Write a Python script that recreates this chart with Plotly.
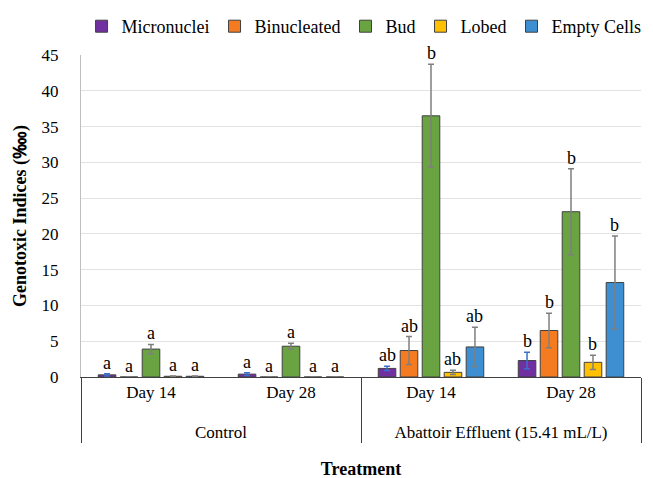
import plotly.graph_objects as go

treatments = ["Control", "Control", "Abattoir Effluent (15.41 mL/L)", "Abattoir Effluent (15.41 mL/L)"]
days = ["Day 14", "Day 28", "Day 14", "Day 28"]

series = ["Micronuclei", "Binucleated", "Bud", "Lobed", "Empty Cells"]
values = {
    "Micronuclei": [0.3, 0.4, 1.2, 2.3],
    "Binucleated": [0.0, 0.0, 3.7, 6.5],
    "Bud":         [3.9, 4.3, 36.5, 23.1],
    "Lobed":       [0.1, 0.0, 0.65, 2.05],
    "Empty Cells": [0.1, 0.0, 4.2, 13.2],
}
errors = {
    "Micronuclei": [0.15, 0.2, 0.3, 1.15],
    "Binucleated": [0.0, 0.0, 1.95, 2.4],
    "Bud":         [0.65, 0.4, 7.2, 6.0],
    "Lobed":       [0.05, 0.0, 0.3, 1.0],
    "Empty Cells": [0.05, 0.0, 2.75, 6.5],
}
letters = {
    "Micronuclei": ["a", "a", "ab", "b"],
    "Binucleated": ["a", "a", "ab", "b"],
    "Bud":         ["a", "a", "b", "b"],
    "Lobed":       ["a", "a", "ab", "b"],
    "Empty Cells": ["a", "a", "ab", "b"],
}
colors = {
    "Micronuclei": "#7030A0",
    "Binucleated": "#F47B20",
    "Bud": "#6AA342",
    "Lobed": "#FFC000",
    "Empty Cells": "#3D8FD1",
}
err_colors = {
    "Micronuclei": "#3A6FD0",
    "Binucleated": "#7F7F7F",
    "Bud": "#7F7F7F",
    "Lobed": "#7F7F7F",
    "Empty Cells": "#7F7F7F",
}

FONT = "Liberation Serif"
bargap = 0.215
bargroupgap = 0.2

# inner tick labels padded with a small spacer line to push the outer labels down
day_labels = [d + "<br><span style='font-size:3px'> </span>" for d in days]

fig = go.Figure()
for s in series:
    fig.add_trace(go.Bar(
        name=s,
        x=[treatments, day_labels],
        y=values[s],
        marker=dict(color=colors[s], line=dict(color="#404040", width=1)),
        error_y=dict(type="data", array=errors[s], visible=True,
                     color=err_colors[s], thickness=1.5, width=3),
    ))

n = len(series)
slot = (1 - bargap) / n
annotations = []
for j, s in enumerate(series):
    off = (j - (n - 1) / 2) * slot
    for i in range(len(days)):
        top = values[s][i] + errors[s][i]
        annotations.append(dict(
            x=i + off, y=top, xref="x", yref="y",
            text=letters[s][i], showarrow=False, yanchor="bottom", yshift=-1,
            font=dict(family=FONT, size=18, color="#000000"),
        ))

fig.update_layout(
    width=645, height=470,
    margin=dict(l=73, r=12, t=47, b=101, autoexpand=False),
    paper_bgcolor="white", plot_bgcolor="white",
    barmode="group", bargap=bargap, bargroupgap=bargroupgap,
    font=dict(family=FONT, size=17, color="#000000"),
    showlegend=True,
    legend=dict(orientation="h", x=0.99, xanchor="right", xref="container",
                y=1.0, yanchor="top", yref="container",
                font=dict(family=FONT, size=18),
                itemwidth=30, traceorder="normal"),
    annotations=annotations,
    xaxis=dict(
        type="multicategory",
        showdividers=True, dividercolor="#404040", dividerwidth=1,
        showline=True, linecolor="#404040", linewidth=1,
        ticks="", tickfont=dict(family=FONT, size=17),
        title=dict(text="<b>Treatment</b>", font=dict(family=FONT, size=18), standoff=20),
    ),
    yaxis=dict(
        range=[0, 45], dtick=5, tick0=0,
        showgrid=True, gridcolor="#E3E3E3", gridwidth=1,
        showline=True, linecolor="#BFBFBF", linewidth=1,
        zeroline=False, ticks="", ticklabelstandoff=18,
        tickfont=dict(family=FONT, size=17),
        title=dict(text="<b>Genotoxic Indices (‱)</b>", font=dict(family=FONT, size=18), standoff=10),
    ),
)

fig.write_html("out.html")
